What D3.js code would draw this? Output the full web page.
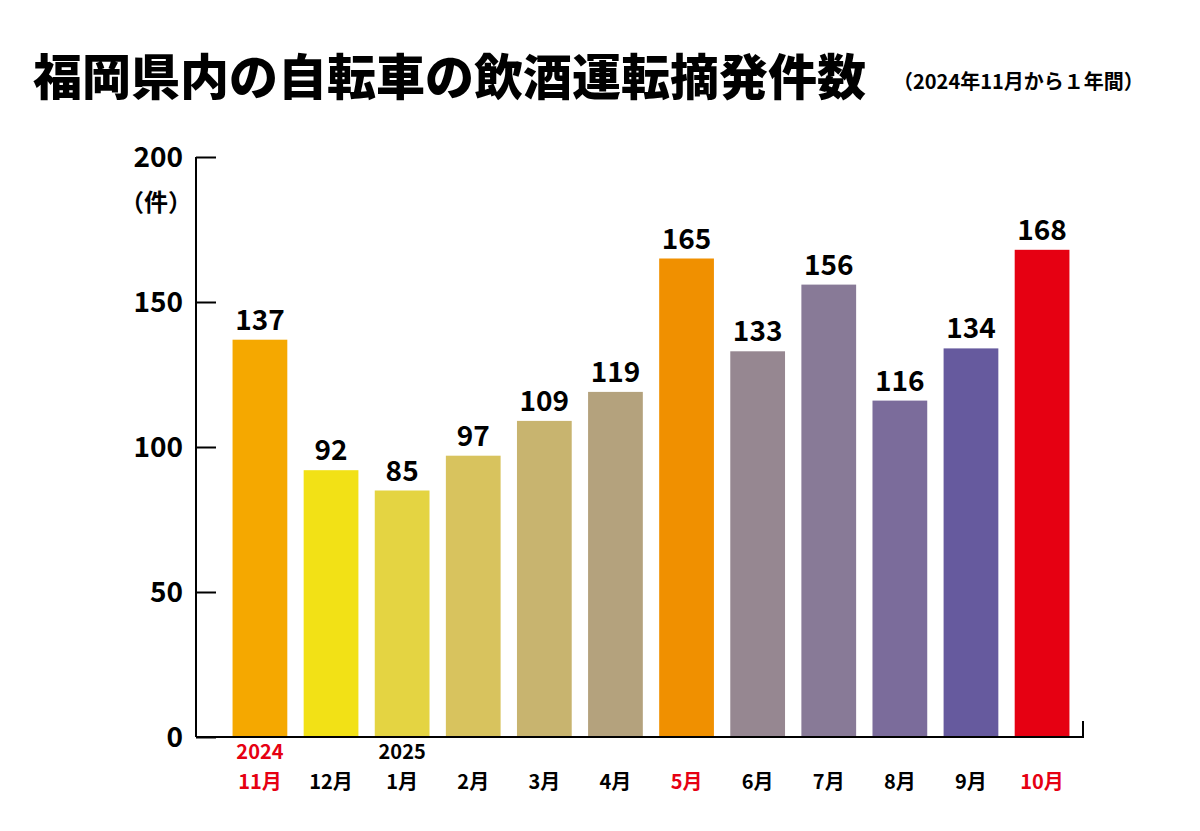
<!DOCTYPE html>
<html><head><meta charset="utf-8">
<script src="https://cdn.jsdelivr.net/npm/d3@7"></script>
<style>body{margin:0;background:#fff}text{font-family:"Noto Sans CJK JP","Noto Sans",sans-serif}</style>
</head><body><svg id="c" width="1200" height="831"></svg>
<script>
// data
const months = ["11月","12月","1月","2月","3月","4月","5月","6月","7月","8月","9月","10月"];
const years = ["2024","","2025","","","","","","","","",""];
const counts = [137,92,85,97,109,119,165,133,156,116,134,168];
const colors = ["#f5a800","#f2e116","#e4d442","#d8c35e","#c8b46f","#b4a27d","#f09000","#968791","#887a97","#7b6c9b","#665a9e","#e60012"];
const redLabels = ["11月","5月","10月"];
const yTicks = [0,50,100,150,200];

const svg = d3.select("#c");
const x = d3.scaleBand().domain(months).range([229, 1073]).paddingInner(0.23).paddingOuter(0.05);
const y = d3.scaleLinear().domain([0,200]).range([737,157]);

svg.append("text").attr("x",33).attr("y",95).attr("font-size",49).attr("font-weight",900).text("福岡県内の自転車の飲酒運転摘発件数");
svg.append("text").attr("x",893).attr("y",89).attr("font-size",20).attr("font-weight",700).text("（2024年11月から１年間）");

// bars
svg.selectAll("rect").data(counts).join("rect")
  .attr("x",(d,i)=>x(months[i])).attr("width",x.bandwidth())
  .attr("y",d=>y(d)).attr("height",d=>y(0)-y(d)).attr("fill",(d,i)=>colors[i]);
svg.selectAll(".v").data(counts).join("text").attr("class","v")
  .attr("x",(d,i)=>x(months[i])+x.bandwidth()/2).attr("y",d=>y(d)-10)
  .attr("text-anchor","middle").attr("font-size",28).attr("font-weight",700).text(d=>d);

// y axis
const ya = svg.append("g").attr("transform","translate(196,0)")
  .call(d3.axisRight(y).tickValues(yTicks).tickSize(20).tickFormat(""));
ya.selectAll("line,path").attr("stroke","#000").attr("stroke-width",2);
ya.select(".domain").attr("d","M0,157V737");
svg.selectAll(".yl").data(yTicks).join("text").attr("class","yl")
  .attr("x",183).attr("y",d=>y(d)+10).attr("text-anchor","end")
  .attr("font-size",28).attr("font-weight",700).text(d=>d);
svg.append("text").attr("x",120).attr("y",211).attr("font-size",24).attr("font-weight",700).text("（件）");

// x axis
const xa = svg.append("g").attr("transform","translate(0,737)")
  .call(d3.axisBottom(x).tickSize(0).tickFormat(""));
xa.select(".domain").attr("d","M196,0H1083V-16").attr("stroke","#000").attr("stroke-width",2).attr("fill","none");
svg.selectAll(".m").data(months).join("text").attr("class","m")
  .attr("x",d=>x(d)+x.bandwidth()/2).attr("y",789).attr("text-anchor","middle")
  .attr("font-size",20).attr("font-weight",700)
  .attr("fill",d=>redLabels.includes(d)?"#e60012":"#000").text(d=>d);
svg.selectAll(".yr").data(years).join("text").attr("class","yr")
  .attr("x",(d,i)=>x(months[i])+x.bandwidth()/2).attr("y",759).attr("text-anchor","middle")
  .attr("font-size",20).attr("font-weight",700)
  .attr("fill",(d,i)=>i===0?"#e60012":"#000").text(d=>d);
</script></body></html>
